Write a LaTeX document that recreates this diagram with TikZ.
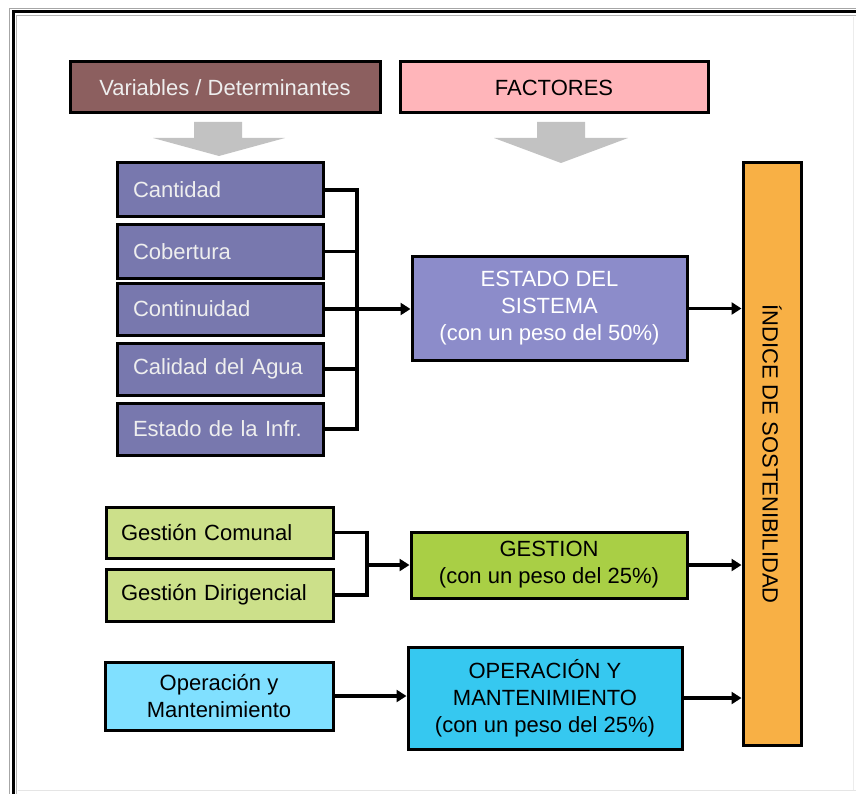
\documentclass[tikz,border=0pt]{standalone}
\usepackage{fontspec}
\setmainfont{Liberation Sans}
\usetikzlibrary{arrows.meta}
\definecolor{vdbrown}{HTML}{8C5F5F}
\definecolor{facpink}{HTML}{FFB5BA}
\definecolor{varpurple}{HTML}{7878AE}
\definecolor{estpurple}{HTML}{8C8CCA}
\definecolor{gestlight}{HTML}{CCE08A}
\definecolor{gestgreen}{HTML}{A9CF45}
\definecolor{oplight}{HTML}{80E0FF}
\definecolor{opcyan}{HTML}{36C8F0}
\definecolor{indorange}{HTML}{F8B045}
\definecolor{lighttext}{HTML}{EEEEEE}
\definecolor{arrowgray}{HTML}{C2C2C2}
\begin{document}
\begin{tikzpicture}[x=1pt,y=-1pt,
  box/.style={draw=black, line width=3pt, inner sep=0pt, font=\fontsize{22}{27}\selectfont},
  varbox/.style={box, fill=varpurple, text=lighttext, minimum width=206pt, text width=174pt, inner xsep=16pt, align=left},
  gbox/.style={box, fill=gestlight, minimum width=227pt, text width=197pt, inner xsep=15pt, align=left},
  conn/.style={line width=3.5pt, black},
  arr/.style={conn, -{Triangle[length=10pt,width=12pt]}},
  bigarrow/.style={fill=arrowgray, draw=none}
]
\useasboundingbox (0,0) rectangle (856,794);
\fill[white] (0,0) rectangle (856,794);
% frame
\draw[gray!70, line width=1.5pt] (9.5,794) -- (9.5,8.5) -- (856,8.5);
\draw[black, line width=3pt] (13,794) -- (13,12) -- (856,12);
\draw[gray!60, line width=1.5pt] (16.5,794) -- (16.5,15.5) -- (856,15.5);
\draw[gray!20, line width=1pt] (18,790) -- (856,790);
\draw[gray!15, line width=1pt] (853,17) -- (853,790);

% header boxes
\node[box, fill=vdbrown, text=lighttext, minimum width=310pt, minimum height=51pt] (vd) at (225,87.5) {Variables / Determinantes};
\node[box, fill=facpink, minimum width=308pt, minimum height=51pt] (fac) at (554,87.5) {FACTORES};

% gray arrows
\fill[bigarrow] (194,122) -- (242,122) -- (242,138) -- (285,138) -- (219,156) -- (153,138) -- (194,138) -- cycle;
\fill[bigarrow] (537,122) -- (585,122) -- (585,138) -- (628,138) -- (561,163) -- (494,138) -- (537,138) -- cycle;

% variables
\node[varbox, minimum height=54pt] (cant) at (220,190) {Cantidad};
\node[varbox, minimum height=53pt] (cob) at (220,251.5) {Cobertura};
\node[varbox, minimum height=52pt] (cont) at (220,309) {Continuidad};
\node[varbox, minimum height=52pt] (cal) at (220,369) {Calidad del Agua};
\node[varbox, minimum height=52pt] (est) at (220,429) {Estado de la Infr.};

\node[box, fill=estpurple, text=white, minimum width=275pt, minimum height=103pt, align=center] (estado) at (549.5,308.5) {ESTADO DEL\\SISTEMA\\(con un peso del 50\%)};

% gestion
\node[gbox, minimum height=51pt] (gc) at (219.5,532.5) {Gestión Comunal};
\node[gbox, minimum height=52pt] (gd) at (219.5,595) {Gestión Dirigencial};
\node[box, fill=gestgreen, minimum width=276pt, minimum height=66pt, align=center] (gestion) at (549,565) {GESTION\\(con un peso del 25\%)};

% operacion
\node[box, fill=oplight, minimum width=228pt, minimum height=68pt, align=center] (op) at (219,696) {Operación y\\Mantenimiento};
\node[box, fill=opcyan, minimum width=274pt, minimum height=102pt, align=center] (oper) at (545,698) {OPERACIÓN Y\\MANTENIMIENTO\\(con un peso del 25\%)};

% indice
\node[box, fill=indorange, rotate=-90, minimum width=582pt, minimum height=58pt] (ind) at (772,454) {ÍNDICE DE SOSTENIBILIDAD};

% connectors
\coordinate (vb) at (357,309);
\draw[conn] (cant.east) -- (cant.east -| vb) -- (est.east -| vb) -- (est.east);
\draw[conn] (cob.east) -- (cob.east -| vb);
\draw[conn] (cal.east) -- (cal.east -| vb);
\draw[arr] (cont.east) -- (cont.east -| estado.west);

\coordinate (gb) at (367,565);
\draw[conn] (gc.east) -- (gc.east -| gb) -- (gd.east -| gb) -- (gd.east);
\draw[arr] (gb) -- (gestion.west);

\draw[arr] (op.east) -- (op.east -| oper.west);

\draw[arr] (estado.east) -- (estado.east -| ind.south);
\draw[arr] (gestion.east) -- (gestion.east -| ind.south);
\draw[arr] (oper.east) -- (oper.east -| ind.south);
\end{tikzpicture}
\end{document}
